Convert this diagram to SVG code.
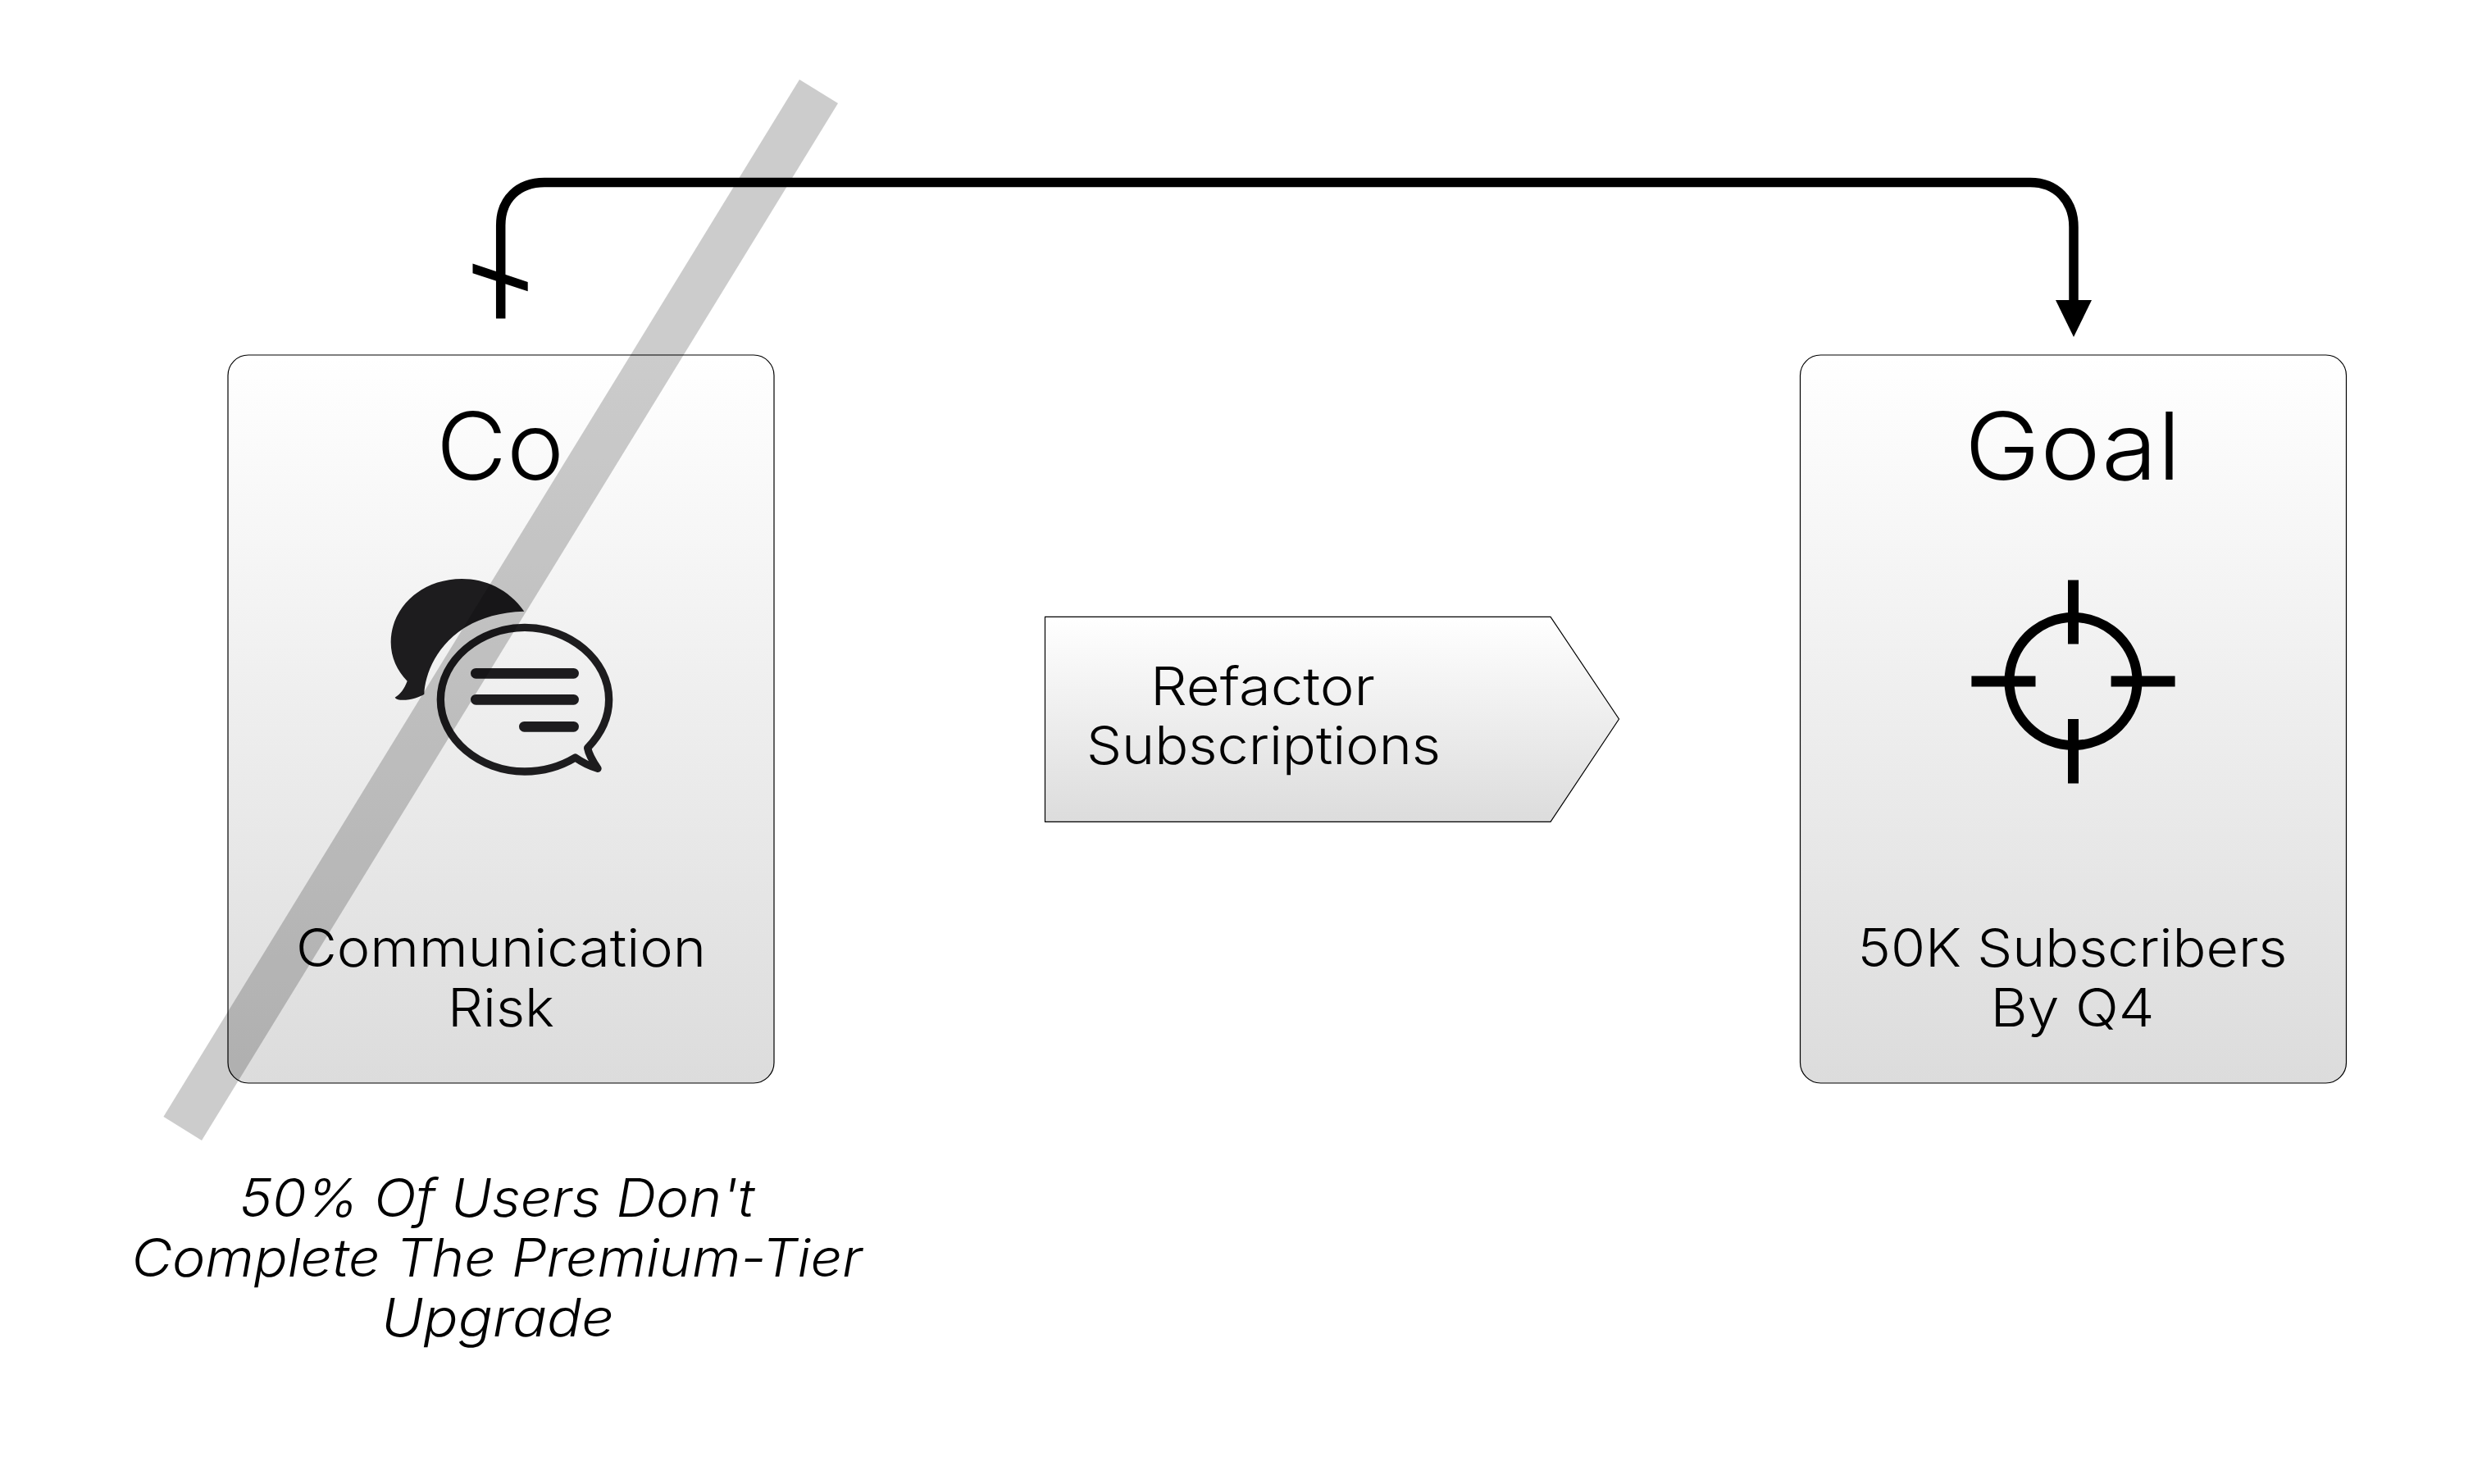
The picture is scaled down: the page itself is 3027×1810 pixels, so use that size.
<svg xmlns="http://www.w3.org/2000/svg" width="3027" height="1810" viewBox="0 0 3027 1810">
<style>
text{font-family:"Inter","Open Sans","Liberation Sans",sans-serif;font-weight:300;fill:#000;text-anchor:middle}
.h{font-size:114px}
.b{font-size:64px}
.c{font-size:64px;font-style:italic}
.box{fill:url(#g);stroke:#000;stroke-width:1.2}
.wire{fill:none;stroke:#000;stroke-width:11.5}
</style>
<defs>
<linearGradient id="g" x1="0" y1="0" x2="0" y2="1"><stop offset="0" stop-color="#fff"/><stop offset="1" stop-color="#dcdcdc"/></linearGradient>
<marker id="ah" markerUnits="userSpaceOnUse" markerWidth="46" markerHeight="46" refX="22" refY="20" orient="0" overflow="visible"><path d="M0 0H44L22 45Z" fill="#000"/></marker>
</defs>
<rect width="3027" height="1810" fill="#fff"/>
<g id="connectors">
<path class="wire" d="M610.7 388.6V275C610.7 243 632 222.5 664 222.5H2476C2508 222.5 2529 245 2529 277V386" marker-end="url(#ah)"/>
<polygon points="576.5,321.6 643.7,344 643.7,355.2 576.5,333.2" fill="#000"/>
</g>
<g id="node-co">
<rect class="box" x="278" y="433" width="666" height="888" rx="25"/>
<text class="h" x="610" y="585" textLength="156" lengthAdjust="spacingAndGlyphs">Co</text>
<g id="icon-chat" transform="translate(440 680) scale(.3333)">
<path d="M598 197C540 115 455 78 370 78C225 78 110 180 110 310C110 365 133 415 170 452C160 480 145 500 125 512C130 522 150 522 165 521C190 520 215 510 232 500C235 400 320 205 598 197Z" fill="#1d1c1e"/>
<path d="M785 732C730 765 665 783 600 783C435 783 292 665 292 520C292 375 435 256 600 256C765 256 908 375 908 520C908 590 875 650 830 697Q835 725 867 772Q825 760 785 732Z" fill="none" stroke="#1d1c1e" stroke-width="28" stroke-linejoin="round"/>
<path d="M421 424H779M421 520H779M598 619H779" fill="none" stroke="#1d1c1e" stroke-width="38" stroke-linecap="round"/>
</g>
<text class="b" x="611" y="1179" textLength="500" lengthAdjust="spacingAndGlyphs">Communication</text>
<text class="b" x="611" y="1252" textLength="130" lengthAdjust="spacingAndGlyphs">Risk</text>
</g>
<g id="node-action">
<polygon class="box" points="1274.5,752.3 1891,752.3 1974.5,877 1891,1002.3 1274.5,1002.3"/>
<text class="b" x="1540" y="859.5" textLength="274" lengthAdjust="spacingAndGlyphs">Refactor</text>
<text class="b" x="1541" y="932" textLength="432" lengthAdjust="spacingAndGlyphs">Subscriptions</text>
</g>
<g id="node-goal">
<rect class="box" x="2195.5" y="433" width="666" height="888" rx="25"/>
<text class="h" x="2528" y="585" textLength="264" lengthAdjust="spacingAndGlyphs">Goal</text>
<g id="icon-target" fill="none" stroke="#000">
<circle cx="2528.5" cy="831" r="78" stroke-width="12"/>
<path d="M2528.5 707.5V785.6M2528.5 877V955.5M2404.4 831H2482.5M2574.6 831H2652.6" stroke-width="13"/>
</g>
<text class="b" x="2527.5" y="1179" textLength="524" lengthAdjust="spacingAndGlyphs">50K Subscribers</text>
<text class="b" x="2527.5" y="1252" textLength="200" lengthAdjust="spacingAndGlyphs">By Q4</text>
</g>
<g id="caption">
<text class="c" x="606" y="1483.6" textLength="628" lengthAdjust="spacingAndGlyphs">50% Of Users Don't</text>
<text class="c" x="606" y="1557" textLength="891" lengthAdjust="spacingAndGlyphs">Complete The Premium-Tier</text>
<text class="c" x="607" y="1630" textLength="284" lengthAdjust="spacingAndGlyphs">Upgrade</text>
</g>
<polygon id="strike" points="975,97 1022,126 246,1391 199.4,1362" fill="#000" fill-opacity=".2"/>
</svg>
